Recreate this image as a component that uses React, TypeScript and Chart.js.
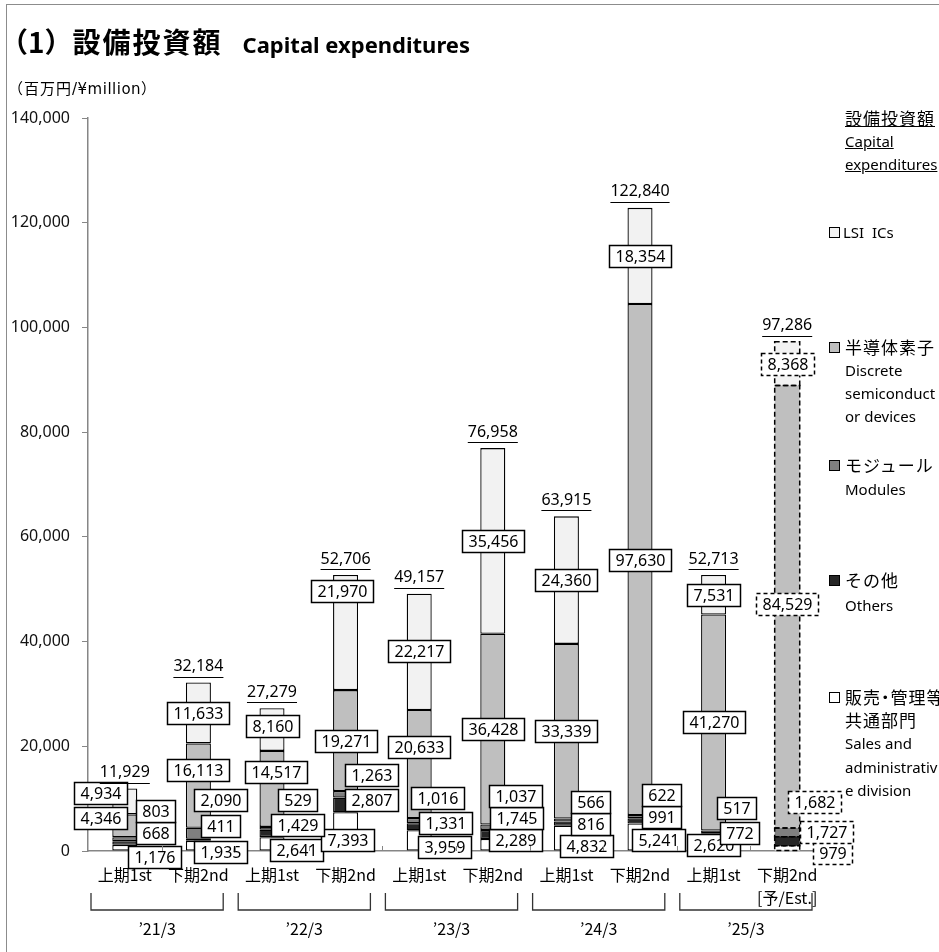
import React, { useEffect, useRef } from "react";
import { Chart, registerables } from "chart.js";

Chart.register(...registerables);

// ---------------- data ----------------
const periodLabels: (string | string[])[] = [
  "上期1st", "下期2nd", "上期1st", "下期2nd", "上期1st",
  "下期2nd", "上期1st", "下期2nd", "上期1st", ["下期2nd", "[予/Est.]"],
];
const fiscalYears = ["’21/3", "’22/3", "’23/3", "’24/3", "’25/3"];

// stacked bottom -> top
const salesAdmin = [1176, 1935, 2641, 7393, 3959, 2289, 4832, 5241, 2620, 979];
const others = [668, 411, 1429, 2807, 1331, 1745, 816, 991, 772, 1727];
const modules = [803, 2090, 529, 1263, 1016, 1037, 566, 622, 517, 1682];
const discrete = [4346, 16113, 14517, 19271, 20633, 36428, 33339, 97630, 41270, 84529];
const lsi = [4934, 11633, 8160, 21970, 22217, 35456, 24360, 18354, 7531, 8368];
const totals = [11929, 32184, 27279, 52706, 49157, 76958, 63915, 122840, 52713, 97286];
const estimateIndex = 9;

const yMin = 0;
const yMax = 140000;
const yStep = 20000;

const seriesNames = ["販売・管理等共通部門", "その他", "モジュール", "半導体素子", "LSI ICs"];
const seriesColors = ["#ffffff", "#262626", "#7f7f7f", "#bfbfbf", "#f2f2f2"];

// label layout: [dx, dy] in px, relative to each segment's centre
const salesOffsets = [[30, 9], [22, 6], [24, 6], [2, 9], [25, 7], [23, -5], [20, 8], [18, 3], [0, 1], [45, 5]];
const othersOffsets = [[31, -10], [22, -14], [25, -8], [26, -5], [26, -4], [24, -16], [24, 0], [21, -4], [26, -2], [39, -9]];
const modulesOffsets = [[31, -28], [22, -33], [25, -28], [26, -19], [18, -23], [23, -31], [24, -18], [21, -22], [23, -24], [27, -30]];
const discreteOffsets = [[-24, -8], [0, -16], [4, -17], [0, 0], [0, -17], [0, 0], [0, 0], [0, 0], [0, 0], [0, -3]];
const lsiOffsets = [[-24, -8], [0, 0], [0, -4], [-4, -42], [0, -1], [0, 0], [0, 0], [0, 0], [0, 0], [0, 0]];

const series = [salesAdmin, others, modules, discrete, lsi];
const offsets = [salesOffsets, othersOffsets, modulesOffsets, discreteOffsets, lsiOffsets];

const fmt = (v: number) => v.toLocaleString("en-US");
const LATIN = '"Noto Sans", "Open Sans", sans-serif';
const JP = '"Noto Sans CJK JP", "Noto Sans", sans-serif';
const WIDE = '"DejaVu Sans", "Noto Sans", sans-serif';

function drawBox(ctx: CanvasRenderingContext2D, text: string, cx: number, cy: number, dashed: boolean) {
  const w = Math.round(ctx.measureText(text).width + 12);
  const h = 22;
  const x = Math.round(cx - w / 2) + 0.5;
  const y = Math.round(cy - h / 2) + 0.5;
  ctx.fillStyle = "#ffffff";
  ctx.fillRect(x, y, w, h);
  ctx.setLineDash(dashed ? [4, 3] : []);
  ctx.lineWidth = 1.5;
  ctx.strokeStyle = "#000";
  ctx.strokeRect(x, y, w, h);
  ctx.setLineDash([]);
  ctx.fillStyle = "#000";
  ctx.fillText(text, x + w / 2, y + h / 2 + 1);
}

const annotatePlugin = {
  id: "annotate",
  afterDatasetsDraw(chart: any) {
    const ctx: CanvasRenderingContext2D = chart.ctx;
    ctx.save();
    // dashed outline for the estimate bar
    for (let d = 0; d < series.length; d++) {
      const el = chart.getDatasetMeta(d).data[estimateIndex];
      const p = el.getProps(["x", "y", "base", "width"], true);
      ctx.setLineDash([5, 3]);
      ctx.lineWidth = 1.5;
      ctx.strokeStyle = "#000";
      const top = Math.min(p.y, p.base);
      ctx.strokeRect(p.x - p.width / 2, top, p.width, Math.abs(p.base - p.y));
    }
    ctx.setLineDash([]);
    // segment labels
    ctx.font = `16px ${LATIN}`;
    ctx.textAlign = "center";
    ctx.textBaseline = "middle";
    for (let d = 0; d < series.length; d++) {
      const meta = chart.getDatasetMeta(d);
      series[d].forEach((v, i) => {
        const p = meta.data[i].getProps(["x", "y", "base"], true);
        const mid = (p.y + p.base) / 2;
        const [dx, dy] = offsets[d][i];
        drawBox(ctx, fmt(v), p.x + dx, mid + dy, i === estimateIndex);
      });
    }
    // totals (underlined)
    const topMeta = chart.getDatasetMeta(series.length - 1);
    totals.forEach((t, i) => {
      const p = topMeta.data[i].getProps(["x", "y"], true);
      const text = fmt(t);
      const cy = p.y - 16;
      ctx.fillStyle = "#000";
      ctx.fillText(text, p.x, cy);
      const w = ctx.measureText(text).width;
      ctx.lineWidth = 1;
      ctx.strokeStyle = "#000";
      ctx.beginPath();
      ctx.moveTo(p.x - w / 2, Math.round(cy + 10) + 0.5);
      ctx.lineTo(p.x + w / 2, Math.round(cy + 10) + 0.5);
      ctx.stroke();
    });
    ctx.restore();
  },
  afterDraw(chart: any) {
    const ctx: CanvasRenderingContext2D = chart.ctx;
    const xs = chart.scales.x;
    const area = chart.chartArea;
    const n = periodLabels.length;
    const step = xs.getPixelForValue(1) - xs.getPixelForValue(0);
    ctx.save();
    // inside tick marks at category boundaries
    ctx.strokeStyle = "#868686";
    ctx.lineWidth = 1;
    for (let i = 0; i < n - 1; i++) {
      const bx = Math.round(xs.getPixelForValue(i) + step / 2) + 0.5;
      ctx.beginPath();
      ctx.moveTo(bx, area.bottom);
      ctx.lineTo(bx, area.bottom - 5);
      ctx.stroke();
    }
    // fiscal year brackets
    ctx.strokeStyle = "#333";
    ctx.lineWidth = 1.3;
    ctx.font = `16px ${JP}`;
    ctx.textAlign = "center";
    ctx.textBaseline = "middle";
    ctx.fillStyle = "#000";
    const yLine = area.bottom + 59;
    fiscalYears.forEach((fy, g) => {
      const left = xs.getPixelForValue(2 * g) - step / 2 + 3;
      const right = xs.getPixelForValue(2 * g + 1) + step / 2 - 12;
      ctx.beginPath();
      ctx.moveTo(left, area.bottom + 42);
      ctx.lineTo(left, yLine);
      ctx.lineTo(right, yLine);
      ctx.lineTo(right, area.bottom + 42);
      ctx.stroke();
      ctx.fillText(fy, (left + right) / 2, area.bottom + 78);
    });
    ctx.restore();
  },
};

function ChartCanvas() {
  const ref = useRef<HTMLCanvasElement | null>(null);
  useEffect(() => {
    if (!ref.current) return;
    const chart = new Chart(ref.current, {
      type: "bar",
      data: {
        labels: periodLabels as any,
        datasets: series.map((s, d) => ({
          label: seriesNames[d],
          data: s,
          backgroundColor: seriesColors[d],
          borderColor: "#000",
          borderWidth: s.map((_, i) => (i === estimateIndex ? 0 : 1.3)),
          borderSkipped: false,
          barPercentage: 0.34,
          categoryPercentage: 1,
        })),
      },
      options: {
        responsive: false,
        animation: false,
        devicePixelRatio: 1,
        layout: { padding: { left: 0, right: 115, top: 118, bottom: 0 } },
        plugins: {
          legend: { display: false },
          tooltip: { enabled: false },
          title: { display: false },
        },
        scales: {
          x: {
            stacked: true,
            grid: { display: false, drawTicks: false },
            border: { display: true, color: "#868686", width: 1.5 },
            ticks: {
              font: { family: JP, size: 16, lineHeight: 1.4 },
              color: "#000",
              padding: 13,
              maxRotation: 0,
              autoSkip: false,
            },
            afterFit: (s: any) => {
              s.height = 101;
            },
          },
          y: {
            stacked: true,
            min: yMin,
            max: yMax,
            ticks: {
              stepSize: yStep,
              font: { family: LATIN, size: 16 },
              color: "#111",
              padding: 12,
              callback: (v: any) => fmt(Number(v)),
            },
            grid: { display: true, drawOnChartArea: false, drawTicks: true, tickLength: 6, color: "#868686" },
            border: { display: true, color: "#868686", width: 1.5 },
            afterFit: (s: any) => {
              s.width = 88;
            },
          },
        },
      } as any,
      plugins: [annotatePlugin],
    });
    return () => chart.destroy();
  }, []);
  return <canvas ref={ref} width={939} height={952} style={{ position: "absolute", left: 0, top: 0 }} />;
}

type LegendLine = { text: string; y: number; jp?: boolean; underline?: boolean; swatch?: string; tight?: boolean };
const legendLines: LegendLine[] = [
  { text: "設備投資額", y: 118, jp: true, underline: true },
  { text: "Capital", y: 141, underline: true },
  { text: "expenditures", y: 164, underline: true },
  { text: "LSI\u00a0 ICs", y: 232, swatch: seriesColors[4] },
  { text: "半導体素子", y: 347, jp: true, swatch: seriesColors[3] },
  { text: "Discrete", y: 370 },
  { text: "semiconduct", y: 393 },
  { text: "or devices", y: 416 },
  { text: "モジュール", y: 465, jp: true, swatch: seriesColors[2] },
  { text: "Modules", y: 489 },
  { text: "その他", y: 580, jp: true, swatch: seriesColors[1] },
  { text: "Others", y: 605 },
  { text: "販売・管理等", y: 697, jp: true, swatch: seriesColors[0], tight: true },
  { text: "共通部門", y: 720, jp: true },
  { text: "Sales and", y: 743 },
  { text: "administrativ", y: 767 },
  { text: "e division", y: 790 },
];

export default function App() {
  return (
    <div
      style={{
        position: "fixed",
        left: 0,
        top: 0,
        width: 939,
        height: 952,
        overflow: "hidden",
        background: "#fff",
      }}
    >
      <div
        style={{
          position: "absolute",
          left: 6,
          top: 4,
          width: 1200,
          height: 1200,
          border: "1.5px solid #8c8c8c",
        }}
      />
      <ChartCanvas />
      <div
        style={{
          position: "absolute",
          left: 0,
          top: 23,
          whiteSpace: "nowrap",
          fontWeight: 700,
          color: "#000",
          lineHeight: "36px",
        }}
      >
        <span style={{ fontFamily: JP, fontSize: 28, letterSpacing: 0 }}>（1）</span>
        <span style={{ fontFamily: JP, fontSize: 28, letterSpacing: 2 }}>設備投資額</span>
        <span style={{ fontFamily: LATIN, fontSize: 22, marginLeft: 20 }}>Capital expenditures</span>
      </div>
      <div
        style={{
          position: "absolute",
          left: 8,
          top: 78,
          whiteSpace: "nowrap",
          fontSize: 15,
          lineHeight: "20px",
          color: "#000",
        }}
      >
        <span style={{ fontFamily: JP, letterSpacing: 1 }}>（百万円</span>
        <span style={{ fontFamily: WIDE, fontSize: 15, letterSpacing: 0.5 }}>/¥million</span>
        <span style={{ fontFamily: JP }}>）</span>
      </div>
      {legendLines.map((l, k) => (
        <React.Fragment key={k}>
          {l.swatch && (
            <div
              style={{
                position: "absolute",
                left: 829,
                top: l.y - 5,
                width: 9,
                height: 9,
                background: l.swatch,
                border: "1px solid #000",
              }}
            />
          )}
          <div
            style={{
              position: "absolute",
              left: l.swatch && !l.jp ? 843 : 845,
              top: l.y - 12,
              height: 24,
              lineHeight: "24px",
              whiteSpace: "nowrap",
              fontFamily: l.jp ? JP : LATIN,
              fontSize: l.jp ? 17 : 15,
              letterSpacing: l.jp ? 1 : 0,
              fontFeatureSettings: l.tight ? '"palt"' : "normal",
              textDecoration: l.underline ? "underline" : "none",
              color: "#000",
            }}
          >
            {l.text}
          </div>
        </React.Fragment>
      ))}
    </div>
  );
}
